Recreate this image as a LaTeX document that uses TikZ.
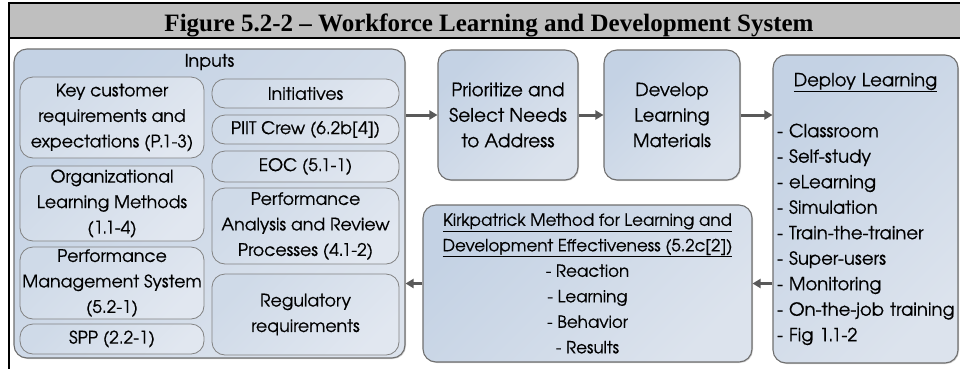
\documentclass[tikz,border=0pt]{standalone}
\usepackage{fontspec}
\setmainfont{texgyreadventor-regular.otf}[BoldFont=texgyreadventor-bold.otf,FakeBold=0.6]
\newfontfamily\gothic{texgyreadventor-regular.otf}[FakeBold=0.6]
\newfontfamily\titlefont{Liberation Serif}
\usetikzlibrary{
    arrows.meta,
    positioning,
    shadows
}
\definecolor{title gray}{HTML}{BFBFBF}
\definecolor{box border}{HTML}{6F6F6F}
\definecolor{inner border}{HTML}{828282}
\definecolor{box dark}{HTML}{C4D2E4}
\definecolor{box light}{HTML}{DCE3ED}
\definecolor{inner dark}{HTML}{CFDAE8}
\definecolor{inner light}{HTML}{E1E7F0}
\definecolor{arrow gray}{HTML}{595959}
\tikzset{
    % Text
    text size/.style={font=\gothic\bfseries\fontsize{#1}{25.5}\selectfont},
    box text/.style={text size=17.3,text=black,align=center},
    %
    % Boxes
    outer box/.style={box text,draw=box border,line width=1.1pt,rounded corners=13pt,
        top color=box dark,bottom color=box light,shading angle=45,inner sep=0pt,
        drop shadow={shadow xshift=1pt,shadow yshift=-1pt,opacity=.35}},
    input box/.style={box text,draw=inner border,line width=.8pt,rounded corners=13pt,
        top color=inner dark,bottom color=inner light,shading angle=45,inner sep=0pt},
    left input/.style={input box,minimum width=184pt},
    right input/.style={input box,minimum width=187pt},
    %
    % Arrows
    arrow tip/.tip={Triangle[length=8pt,width=9pt]},
    arr/.style={-{arrow tip},line width=3pt,arrow gray}
}

\begin{document}
\begin{tikzpicture}[x=1pt,y=-1pt]
    \useasboundingbox (0,0) rectangle (960,368);
    % frame and title band
    \fill[title gray] (9,3) rectangle (970,38);
    \draw[line width=2pt] (970,3) -- (9,3) -- (9,380) (9,38) -- (970,38);
    \node[anchor=base,font=\titlefont\bfseries\fontsize{25}{28}\selectfont] (title) at (489,31.5)
        {Figure 5.2-2 – Workforce Learning and Development System};
    % inputs
    \node[outer box,minimum width=391pt,minimum height=309pt] (inputs) at (209.5,203.5) {};
    \node[box text] (inputs label) at (209.5,62) {Inputs};
    \node[left input,minimum height=81pt] (customer) at (112,117.5) {Key customer\\requirements and\\expectations (P.1-3)};
    \node[left input,minimum height=75pt] (org methods) at (112,203.5) {Organizational\\Learning Methods\\(1.1-4)};
    \node[left input,minimum height=72pt] (perf mgmt) at (112,283) {Performance\\Management System\\(5.2-1)};
    \node[left input,minimum height=30pt] (spp) at (112,339) {SPP (2.2-1)};
    \node[right input,minimum height=29pt] (initiatives) at (305.5,93.5) {Initiatives};
    \node[right input,minimum height=29pt] (piit) at (305.5,129.5) {PIIT Crew (6.2b[4])};
    \node[right input,minimum height=31pt] (eoc) at (305.5,166.5) {EOC (5.1-1)};
    \node[right input,minimum height=76pt] (review) at (305.5,226) {Performance\\Analysis and Review\\Processes (4.1-2)};
    \node[right input,minimum height=81pt] (regulatory) at (305.5,314.5) {Regulatory\\requirements};
    % process steps
    \node[outer box,text size=18.5,minimum width=140pt,minimum height=130pt] (prioritize) at (508,115) {Prioritize and\\Select Needs\\to Address};
    \node[outer box,text size=18,minimum width=136pt,minimum height=130pt] (develop) at (672,115) {Develop\\Learning\\Materials};
    \node[outer box,text size=18,minimum width=185pt,minimum height=308pt,text width=177pt,align=left] (deploy) at (865.5,209)
        {\makebox[\linewidth]{\underline{Deploy Learning}}\\[25.5pt]
         - Classroom\\- Self-study\\- eLearning\\- Simulation\\- Train-the-trainer\\- Super-users\\- Monitoring\\\mbox{- On-the-job training}\\- Fig 1.1-2};
    \node[outer box,text size=16.7,minimum width=329pt,minimum height=157pt] (kirkpatrick) at (587.5,283.5)
        {\underline{Kirkpatrick Method for Learning and}\\\underline{Development Effectiveness (5.2c[2])}\\- Reaction\\- Learning\\- Behavior\\- Results};
    % connectors
    \draw[arr] (inputs.east |- prioritize.west) -- (prioritize.west);
    \draw[arr] (prioritize.east) -- (develop.west);
    \draw[arr] (develop.east) -- (deploy.west |- develop.east);
    \draw[arr] (deploy.west |- kirkpatrick.east) -- (kirkpatrick.east);
    \draw[arr] (kirkpatrick.west) -- (kirkpatrick.west -| inputs.east);
\end{tikzpicture}
\end{document}
